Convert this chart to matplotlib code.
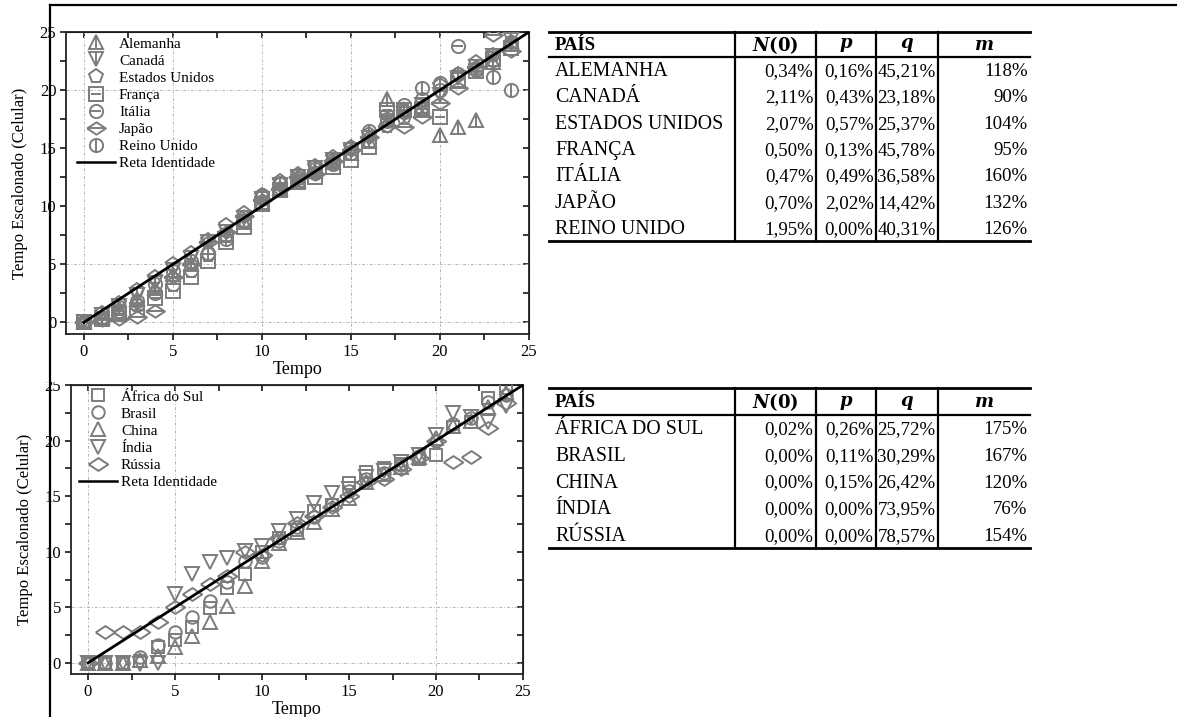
import matplotlib

matplotlib.use("Agg")
import matplotlib.pyplot as plt
import numpy as np
from matplotlib.legend_handler import HandlerTuple
from matplotlib.lines import Line2D
from matplotlib.patches import Rectangle

plt.rcParams["font.family"] = ["Liberation Serif", "DejaVu Serif"]
plt.rcParams["mathtext.fontset"] = "dejavuserif"

# --- dados -----------------------------------------------------------------
TEMPO = np.arange(25)
RETA_IDENTIDADE = [0, 25]

ALEMANHA = [0, 0.5, 1.2, 2.0, 3.0, 4.2, 5.0, 6.5, 7.6, 8.6, 10.4, 11.6, 12.3, 13.0, 13.8, 14.6, 15.6, 19.2, 18.4, 18.6, 16.1, 16.8, 17.4, 22.4, 24.2]
CANADA = [0, 0.6, 1.4, 2.4, 3.4, 4.5, 5.5, 6.9, 7.8, 9.0, 10.6, 11.8, 12.5, 13.3, 14.0, 14.8, 15.9, 17.6, 17.9, 18.7, 19.6, 21.0, 22.0, 22.9, 24.3]
ESTADOS_UNIDOS = [0, 0.8, 1.7, 2.8, 3.9, 5.0, 6.0, 7.1, 8.4, 9.4, 11.0, 12.2, 12.8, 13.5, 14.2, 15.1, 16.2, 16.9, 17.6, 18.4, 20.4, 21.4, 22.4, 23.0, 23.9]
FRANCA = [0, 0.3, 0.7, 1.1, 2.1, 2.7, 3.9, 5.3, 6.9, 8.2, 10.2, 11.4, 12.1, 12.5, 13.4, 14.0, 15.1, 18.3, 18.3, 18.4, 17.7, 20.9, 21.6, 22.7, 23.6]
ITALIA = [0, 0.4, 1.0, 1.5, 2.5, 3.3, 4.5, 5.9, 7.5, 8.7, 10.8, 11.9, 12.4, 12.9, 13.6, 14.6, 15.6, 17.5, 18.7, 19.2, 20.0, 23.8, 21.9, 22.6, 24.1]
JAPAO = [0, 0.2, 0.3, 0.5, 1.0, 3.9, 5.0, 6.9, 7.8, 9.2, 10.5, 11.5, 12.5, 12.8, 13.9, 14.8, 16.0, 16.9, 16.8, 17.7, 18.9, 20.2, 22.0, 24.7, 23.4]
REINO_UNIDO = [0, 0.5, 1.3, 1.8, 3.3, 4.4, 5.3, 6.0, 7.2, 8.8, 11.0, 12.0, 12.7, 13.2, 14.0, 15.0, 16.5, 17.3, 18.1, 20.2, 20.6, 21.4, 21.7, 21.1, 20.0]

AFRICA_DO_SUL = [0, 0, 0, 0.2, 1.4, 2.1, 3.2, 4.9, 6.7, 8.0, 10.0, 11.2, 12.0, 13.7, 14.2, 16.2, 17.2, 17.5, 17.9, 18.3, 18.7, 21.2, 21.7, 23.8, 24.7]
BRASIL = [0, 0, 0, 0.5, 1.6, 2.8, 4.1, 5.6, 7.3, 9.2, 9.5, 11.0, 12.2, 13.1, 14.3, 15.5, 16.5, 17.1, 17.8, 18.6, 20.0, 21.5, 22.0, 23.5, 24.1]
CHINA = [0, 0, 0, 0.3, 0.6, 1.4, 2.4, 3.7, 5.1, 6.9, 9.2, 10.8, 11.8, 12.7, 13.8, 14.8, 16.3, 17.0, 17.6, 18.5, 20.2, 21.3, 21.8, 23.0, 24.3]
INDIA = [0, 0, 0, -0.1, 0.0, 6.2, 8.0, 9.1, 9.4, 10.1, 10.5, 11.9, 12.9, 14.4, 15.3, 15.6, 16.7, 17.3, 18.1, 18.7, 20.5, 22.5, 22.1, 21.7, 23.1]
RUSSIA = [0, 2.8, 2.8, 2.8, 3.7, 5.0, 6.2, 7.1, 7.8, 10.0, 9.7, 11.2, 12.6, 13.2, 14.0, 15.0, 16.3, 16.5, 17.4, 18.4, 20.0, 18.1, 18.5, 21.1, 23.4]

TOP_NOMES = ["Alemanha", "Canadá", "Estados Unidos", "França", "Itália", "Japão", "Reino Unido"]
BOTTOM_NOMES = ["África do Sul", "Brasil", "China", "Índia", "Rússia"]

TOP_PAISES = ["ALEMANHA", "CANADÁ", "ESTADOS UNIDOS", "FRANÇA", "ITÁLIA", "JAPÃO", "REINO UNIDO"]
TOP_N0 = [0.34, 2.11, 2.07, 0.50, 0.47, 0.70, 1.95]
TOP_P = [0.16, 0.43, 0.57, 0.13, 0.49, 2.02, 0.00]
TOP_Q = [45.21, 23.18, 25.37, 45.78, 36.58, 14.42, 40.31]
TOP_M = [118, 90, 104, 95, 160, 132, 126]

BOTTOM_PAISES = ["ÁFRICA DO SUL", "BRASIL", "CHINA", "ÍNDIA", "RÚSSIA"]
BOTTOM_N0 = [0.02, 0.00, 0.00, 0.00, 0.00]
BOTTOM_P = [0.26, 0.11, 0.15, 0.00, 0.00]
BOTTOM_Q = [25.72, 30.29, 26.42, 73.95, 78.57]
BOTTOM_M = [175, 167, 120, 76, 154]

# --- estilo ----------------------------------------------------------------
W, H = 1177, 717
GRAY = "#7c7c7c"
MEW = 1.4
GRID = dict(color="#b4b4b4", lw=0.7, ls=(0, (3, 2, 1, 2)), zorder=1)
DIAMOND = [(-1, 0), (0, 0.66), (1, 0), (0, -0.66), (-1, 0)]

# (marcador, traço sobreposto, fator de tamanho)
TOP_MARKERS = [("^", "|", 1.0), ("v", "|", 1.0), ("p", None, 1.0), ("s", "_", 0.95), ("o", "_", 0.95), (DIAMOND, "_", 1.35), ("o", "|", 0.95)]
BOTTOM_MARKERS = [("s", None, 0.9), ("o", None, 0.9), ("^", None, 1.0), ("v", None, 1.0), (DIAMOND, None, 1.4)]


def fx(x):
    return x / W


def fy(y):
    return 1 - y / H


def _overlay_size(marker, size):
    return size * 0.8 if marker == "_" else size * 1.05


def _marker_handle(marker, overlay, size):
    base = Line2D([], [], ls="none", marker=marker, ms=size, mfc="none", mec=GRAY, mew=MEW)
    if overlay is None:
        return base
    extra = Line2D([], [], ls="none", marker=overlay, ms=_overlay_size(overlay, size), mec=GRAY, mew=MEW)
    return (base, extra)


def _scatter_panel(ax, series, names, markers, size, legend_anchor):
    handles = []
    for values, (marker, overlay, factor) in zip(series, markers):
        ms = size * factor
        ax.plot(TEMPO, values, ls="none", marker=marker, ms=ms, mfc="none", mec=GRAY, mew=MEW, zorder=3)
        if overlay is not None:
            ax.plot(TEMPO, values, ls="none", marker=overlay, ms=_overlay_size(overlay, ms), mec=GRAY, mew=MEW, zorder=3)
        handles.append(_marker_handle(marker, overlay, ms))
    ax.plot(RETA_IDENTIDADE, RETA_IDENTIDADE, color="black", lw=2, zorder=4)
    handles.append(Line2D([], [], color="black", lw=1.8))

    ax.set_xlim(-1, 25)
    ax.set_ylim(-1, 25)
    ticks = np.arange(0, 26, 5)
    minor = np.arange(0, 26, 2.5)
    ax.set_xticks(ticks)
    ax.set_yticks(ticks)
    ax.set_xticks(minor, minor=True)
    ax.set_yticks(minor, minor=True)
    ax.tick_params(which="both", direction="out", length=4, width=1.1, labelsize=12, pad=3)
    for spine in ax.spines.values():
        spine.set_linewidth(1.3)
        spine.set_color("#222222")

    top = ax.secondary_xaxis("top")
    top.set_xticks(minor)
    top.tick_params(direction="in", length=4, width=1.1, labeltop=False)
    right = ax.secondary_yaxis("right")
    right.set_yticks(minor)
    right.tick_params(direction="in", length=4, width=1.1, labelright=False)

    ax.set_xlabel("Tempo", fontsize=13, labelpad=1)
    ax.set_ylabel("Tempo Escalonado (Celular)", fontsize=12, labelpad=8)

    ax.legend(
        handles,
        names + ["Reta Identidade"],
        handler_map={tuple: HandlerTuple(ndivide=1, pad=0)},
        loc="upper left",
        bbox_to_anchor=legend_anchor,
        bbox_transform=ax.figure.transFigure,
        frameon=False,
        fontsize=11,
        borderpad=0,
        borderaxespad=0,
        handlelength=2.5,
        handletextpad=0.25,
        labelspacing=0.22,
    )


def _pct(value):
    return f"{value:.2f}%".replace(".", ",")


def _draw_table(fig, y_top, y_head, row_h, paises, n0, p, q, m):
    cols = [549, 735, 816, 876, 938, 1030]
    y_bottom = y_head + row_h * len(paises)

    def hline(y, lw):
        fig.add_artist(Line2D([fx(cols[0]), fx(cols[-1])], [fy(y), fy(y)], color="black", lw=lw, transform=fig.transFigure))

    hline(y_top, 2.0)
    hline(y_head, 1.6)
    hline(y_bottom, 2.0)
    for x in cols[1:-1]:
        fig.add_artist(Line2D([fx(x), fx(x)], [fy(y_top), fy(y_bottom)], color="black", lw=1.6, transform=fig.transFigure))

    y_h = (y_top + y_head) / 2 + 1
    fig.text(fx(cols[0] + 6), fy(y_h), "PAÍS", fontsize=13.5, fontweight="bold", va="center", ha="left")
    headers = [r"$\mathbfit{N}\mathbf{(0)}$", r"$\mathbfit{p}$", r"$\mathbfit{q}$", r"$\mathbfit{m}$"]
    for i, label in enumerate(headers):
        cx = (cols[i + 1] + cols[i + 2]) / 2
        fig.text(fx(cx), fy(y_h), label, fontsize=13, va="center", ha="center")

    for r, pais in enumerate(paises):
        y = y_head + row_h * (r + 0.5) + 1.5
        fig.text(fx(cols[0] + 6), fy(y), pais, fontsize=14.3, va="center", ha="left")
        cells = [_pct(n0[r]), _pct(p[r]), _pct(q[r]), f"{m[r]}%"]
        for i, cell in enumerate(cells):
            fig.text(fx(cols[i + 2] - 2.5), fy(y), cell, fontsize=13.6, va="center", ha="right")


fig = plt.figure(figsize=(W / 100, H / 100), dpi=100)

ax_top = fig.add_axes([fx(66), fy(334), (529 - 66) / W, (334 - 32) / H])
_scatter_panel(
    ax_top,
    [ALEMANHA, CANADA, ESTADOS_UNIDOS, FRANCA, ITALIA, JAPAO, REINO_UNIDO],
    TOP_NOMES,
    TOP_MARKERS,
    10,
    (fx(77), fy(37)),
)
for x in (0, 5, 10, 15, 20):
    ax_top.axvline(x, **GRID)
for y in (0, 5, 20):
    ax_top.axhline(y, **GRID)

ax_bottom = fig.add_axes([fx(70.6), fy(674), (523 - 70.6) / W, (674 - 385) / H])
_scatter_panel(
    ax_bottom,
    [AFRICA_DO_SUL, BRASIL, CHINA, INDIA, RUSSIA],
    BOTTOM_NOMES,
    BOTTOM_MARKERS,
    10,
    (fx(79), fy(390)),
)
for x in (0, 5, 20):
    ax_bottom.axvline(x, **GRID)
for y in (0, 5):
    ax_bottom.axhline(y, **GRID)

_draw_table(fig, 32, 57, 26.3, TOP_PAISES, TOP_N0, TOP_P, TOP_Q, TOP_M)
_draw_table(fig, 388, 415, 26.6, BOTTOM_PAISES, BOTTOM_N0, BOTTOM_P, BOTTOM_Q, BOTTOM_M)

# recorte branco sobre o topo do rotulo "25" inferior e moldura
fig.add_artist(Rectangle((fx(28), fy(382)), fx(66) - fx(28), fy(366) - fy(382), facecolor="white", edgecolor="none", transform=fig.transFigure, zorder=9))
fig.add_artist(Line2D([fx(50), fx(1177)], [fy(5), fy(5)], color="black", lw=1.6, transform=fig.transFigure, zorder=10))
fig.add_artist(Line2D([fx(50), fx(50)], [fy(5), fy(717)], color="black", lw=1.6, transform=fig.transFigure, zorder=10))

fig.savefig("out.png", dpi=100)
